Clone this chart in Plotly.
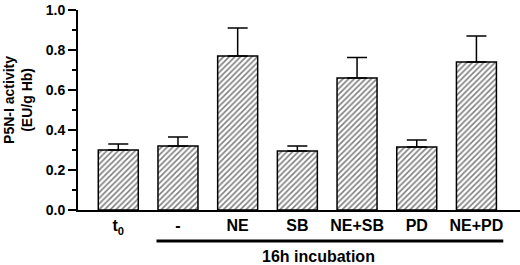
import plotly.graph_objects as go

categories = ["t<sub>0</sub>", "-", "NE", "SB", "NE+SB", "PD", "NE+PD"]
means = [0.30, 0.32, 0.77, 0.295, 0.66, 0.315, 0.74]
errors = [0.03, 0.045, 0.14, 0.025, 0.103, 0.035, 0.13]
y_ticks = [0.0, 0.2, 0.4, 0.6, 0.8, 1.0]
y_title = "P5N-I activity<br>(EU/g Hb)"
group_label = "16h incubation"

FONT = "Liberation Sans, Arial, sans-serif"
x = list(range(len(categories)))

fig = go.Figure()
fig.add_trace(go.Bar(
    x=x, y=means, width=0.67,
    marker=dict(color="white", line=dict(color="black", width=1.5),
                pattern=dict(shape="/", fgcolor="black", bgcolor="white", size=4, solidity=0.4)),
    error_y=dict(type="data", array=errors, arrayminus=[0]*len(errors), symmetric=False,
                 color="black", thickness=1.5, width=10),
))

fig.update_layout(
    width=520, height=265,
    margin=dict(l=78, r=0, t=10, b=55, autoexpand=False),
    plot_bgcolor="white", paper_bgcolor="white",
    showlegend=False,
    font=dict(family=FONT, color="black", size=14, weight="bold"),
)
fig.update_xaxes(
    range=[-0.675, 6.73], tickmode="array", tickvals=x, ticktext=categories,
    showline=True, linecolor="black", linewidth=2, ticks="", showgrid=False, zeroline=False,
    tickfont=dict(family=FONT, size=16, weight="bold", color="black"),
)
fig.update_yaxes(
    range=[0, 1.0], tickmode="array", tickvals=y_ticks, ticktext=[f"{v:.1f}" for v in y_ticks],
    showline=True, linecolor="black", linewidth=2, ticks="outside", ticklen=8, tickwidth=2,
    tickcolor="black", showgrid=False, zeroline=False,
    minor=dict(dtick=0.1, ticks="outside", ticklen=4, tickwidth=2, tickcolor="black", showgrid=False),
    tickfont=dict(family=FONT, size=14, weight="bold", color="black"),
)

fig.add_annotation(
    text=y_title, textangle=-90, xref="paper", yref="paper",
    x=-0.136, y=0.55, xanchor="center", yanchor="middle", showarrow=False,
    font=dict(family=FONT, size=14, weight="bold", color="black"),
)
fig.add_shape(type="line", xref="x", yref="paper", x0=0.64, x1=6.45, y0=-0.155, y1=-0.155,
              line=dict(color="black", width=3))
fig.add_annotation(
    text=group_label, xref="x", yref="paper", x=3.35, y=-0.232, xanchor="center", yanchor="middle",
    showarrow=False, font=dict(family=FONT, size=16, weight="bold", color="black"),
)

fig.write_html("out.html", config={"displayModeBar": False},
               post_script="document.body.style.margin='0';")
